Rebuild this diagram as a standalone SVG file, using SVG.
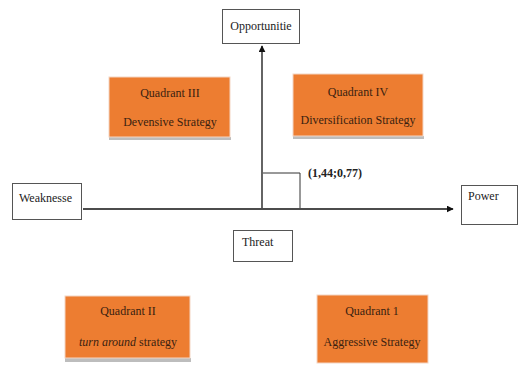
<svg xmlns="http://www.w3.org/2000/svg" width="519" height="365" viewBox="0 0 519 365" font-family="'Liberation Serif', 'Times New Roman', 'DejaVu Serif', serif" font-size="12">
<defs>
<style>
.lbl{fill:#fff;stroke:#555;stroke-width:1}
.q{fill:#ED7D31;stroke:#f4d6c4;stroke-width:1}
.sh{fill:#bdbdbd}
text{fill:#222}
.qt{fill:#3a1f10;text-anchor:middle}
.ax{stroke:#111;stroke-width:1.3;fill:none}
.thin{stroke:#333;stroke-width:1;fill:none}
</style>
<marker id="arr" viewBox="0 0 10 10" refX="9" refY="5" markerWidth="7" markerHeight="7" orient="auto" markerUnits="userSpaceOnUse">
<path d="M0,0 L10,5 L0,10 z" fill="#111"/>
</marker>
</defs>
<rect width="519" height="365" fill="#fff"/>
<g id="connectors">
<line class="ax" x1="83" y1="209" x2="453" y2="209" marker-end="url(#arr)"/>
<line class="ax" x1="262" y1="208" x2="262" y2="46" marker-end="url(#arr)"/>
<polyline class="thin" points="263,173 300,173 300,208"/>
<text x="308" y="177" font-weight="bold">(1,44;0,77)</text>
</g>
<g id="opportunitie">
<rect class="lbl" x="222.5" y="9.5" width="77" height="34"/>
<text x="261" y="30" text-anchor="middle">Opportunitie</text>
</g>
<g id="weaknesse">
<rect class="lbl" x="12.5" y="183.5" width="69" height="36"/>
<text x="19" y="202">Weaknesse</text>
</g>
<g id="power">
<rect class="lbl" x="461.5" y="185.5" width="56" height="39"/>
<text x="468" y="200">Power</text>
</g>
<g id="threat">
<rect class="lbl" x="233.5" y="230.5" width="59" height="31"/>
<text x="242" y="246">Threat</text>
</g>
<g id="quadrant3">
<rect class="sh" x="109" y="137" width="122" height="3"/>
<rect class="q" x="109" y="77" width="121" height="60"/>
<text class="qt" x="170" y="97">Quadrant III</text>
<text class="qt" x="170" y="126">Devensive Strategy</text>
</g>
<g id="quadrant4">
<rect class="sh" x="293" y="136" width="131" height="3"/>
<rect class="q" x="293" y="74" width="130" height="62"/>
<text class="qt" x="358" y="96">Quadrant IV</text>
<text class="qt" x="358" y="124">Diversification Strategy</text>
</g>
<g id="quadrant2">
<rect class="sh" x="65" y="358" width="126" height="4"/>
<rect class="q" x="65" y="296" width="125" height="62"/>
<text class="qt" x="128" y="315">Quadrant II</text>
<text class="qt" x="128" y="346"><tspan font-style="italic">turn around</tspan> strategy</text>
</g>
<g id="quadrant1">
<rect class="q" x="317" y="295" width="111" height="68"/>
<text class="qt" x="372" y="315">Quadrant 1</text>
<text class="qt" x="372" y="346">Aggressive Strategy</text>
</g>
</svg>
